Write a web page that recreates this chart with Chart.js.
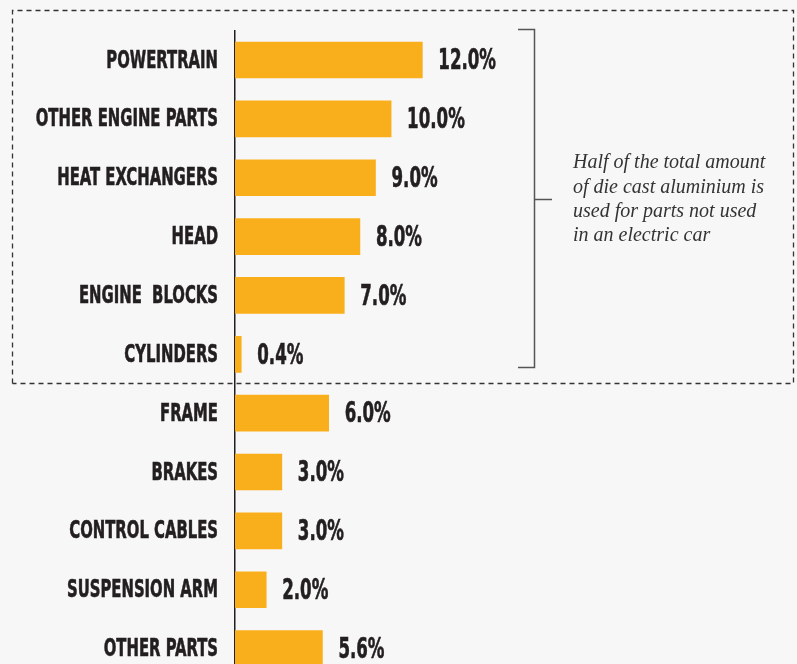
<!DOCTYPE html>
<html>
<head>
<meta charset="utf-8">
<script src="https://cdn.jsdelivr.net/npm/chart.js@4"></script>
<style>
  html, body { margin: 0; padding: 0; background: #f7f7f7; overflow: hidden; }
  #wrap { width: 797px; height: 664px; overflow: hidden; }
</style>
</head>
<body>
<div id="wrap"><canvas id="mycanvas" width="797" height="678"></canvas></div>
<script>
var parts = ['POWERTRAIN', 'OTHER ENGINE PARTS', 'HEAT EXCHANGERS', 'HEAD', 'ENGINE  BLOCKS',
  'CYLINDERS', 'FRAME', 'BRAKES', 'CONTROL CABLES', 'SUSPENSION ARM', 'OTHER PARTS'];
var shares = [12.0, 10.0, 9.0, 8.0, 7.0, 0.4, 6.0, 3.0, 3.0, 2.0, 5.6];
var noteLines = ['Half of the total amount', 'of die cast aluminium is', 'used for parts not used', 'in an electric car'];
var groupSize = 6; // first six parts are not used in an electric car

var labelFont = '"DejaVu Sans Condensed", "DejaVu Sans", sans-serif';
var squeeze = 0.66; // poor man's display-condensed face

// category names, placed from the y scale, squeezed horizontally
var partLabels = {
  id: 'partLabels',
  afterDraw: function(chart) {
    var ctx = chart.ctx;
    var y = chart.scales.y;
    ctx.save();
    ctx.font = 'bold 25px ' + labelFont;
    ctx.fillStyle = '#231f20';
    ctx.strokeStyle = '#231f20';
    ctx.lineWidth = 0.6;
    ctx.textAlign = 'right';
    ctx.textBaseline = 'middle';
    ctx.scale(squeeze, 1);
    parts.forEach(function(p, i) {
      var x = (y.right - 17) / squeeze, py = y.getPixelForValue(i) + 1;
      ctx.fillText(p, x, py);
      ctx.strokeText(p, x, py);
    });
    ctx.restore();
  }
};

// value labels at the end of each bar
var valueLabels = {
  id: 'valueLabels',
  afterDatasetsDraw: function(chart) {
    var ctx = chart.ctx;
    var meta = chart.getDatasetMeta(0);
    ctx.save();
    ctx.font = 'bold 28px ' + labelFont;
    ctx.fillStyle = '#231f20';
    ctx.strokeStyle = '#231f20';
    ctx.lineWidth = 0.6;
    ctx.textBaseline = 'middle';
    ctx.scale(squeeze, 1);
    meta.data.forEach(function(bar, i) {
      var t = shares[i].toFixed(1) + '%';
      ctx.fillText(t, (bar.x + 16) / squeeze, bar.y + 2);
      ctx.strokeText(t, (bar.x + 16) / squeeze, bar.y + 2);
    });
    ctx.restore();
  }
};

// dashed box, bracket and note around the engine parts
var engineGroup = {
  id: 'engineGroup',
  afterDraw: function(chart) {
    var ctx = chart.ctx;
    var y = chart.scales.y;
    var first = y.getPixelForValue(0);
    var last = y.getPixelForValue(groupSize - 1);
    var next = y.getPixelForValue(groupSize);
    var boxBottom = Math.round((last + next) / 2 - 1) + 0.5;
    ctx.save();
    ctx.strokeStyle = '#333';
    ctx.lineWidth = 1.3;
    ctx.setLineDash([5, 4]);
    ctx.beginPath();
    ctx.moveTo(12.5, boxBottom);
    ctx.lineTo(12.5, 10.5);
    ctx.lineTo(793.5, 10.5);
    ctx.lineTo(793.5, boxBottom);
    ctx.lineTo(12.5, boxBottom);
    ctx.stroke();
    ctx.setLineDash([]);

    var bTop = Math.round(first - 31) + 0.5, bBot = Math.round(last + 13) + 0.5, bx = 534.5;
    var bMid = Math.round((bTop + bBot) / 2) + 0.5;
    ctx.strokeStyle = '#555';
    ctx.lineWidth = 1.5;
    ctx.beginPath();
    ctx.moveTo(518, bTop);
    ctx.lineTo(bx, bTop);
    ctx.lineTo(bx, bBot);
    ctx.lineTo(518, bBot);
    ctx.moveTo(bx, bMid);
    ctx.lineTo(552, bMid);
    ctx.stroke();

    ctx.fillStyle = '#333';
    ctx.font = 'italic 20px "Liberation Serif", "DejaVu Serif", serif';
    ctx.textBaseline = 'middle';
    noteLines.forEach(function(line, i) {
      ctx.fillText(line, 573, 163 + i * 24.3);
    });
    ctx.restore();
  }
};

var ctx = document.getElementById('mycanvas');
var chart = new Chart(ctx, {
  type: 'bar',
  data: {
    labels: parts,
    datasets: [{
      data: shares,
      backgroundColor: '#f9af1b',
      borderWidth: 0,
      barThickness: 36
    }]
  },
  options: {
    indexAxis: 'y',
    responsive: false,
    animation: false,
    layout: { padding: { top: 30.6, bottom: 0, left: 0, right: 0 } },
    plugins: { legend: { display: false }, tooltip: { enabled: false } },
    scales: {
      x: { display: false, min: 0, max: 36 },
      y: {
        afterFit: function(scale) {
          scale.width = 235;
          scale.paddingTop = 0;
          scale.paddingBottom = 0;
        },
        grid: { display: false, drawTicks: false },
        border: { display: true, color: '#231f20', width: 1.5 },
        ticks: { display: false }
      }
    }
  },
  plugins: [valueLabels, engineGroup, partLabels]
});
</script>
</body>
</html>
